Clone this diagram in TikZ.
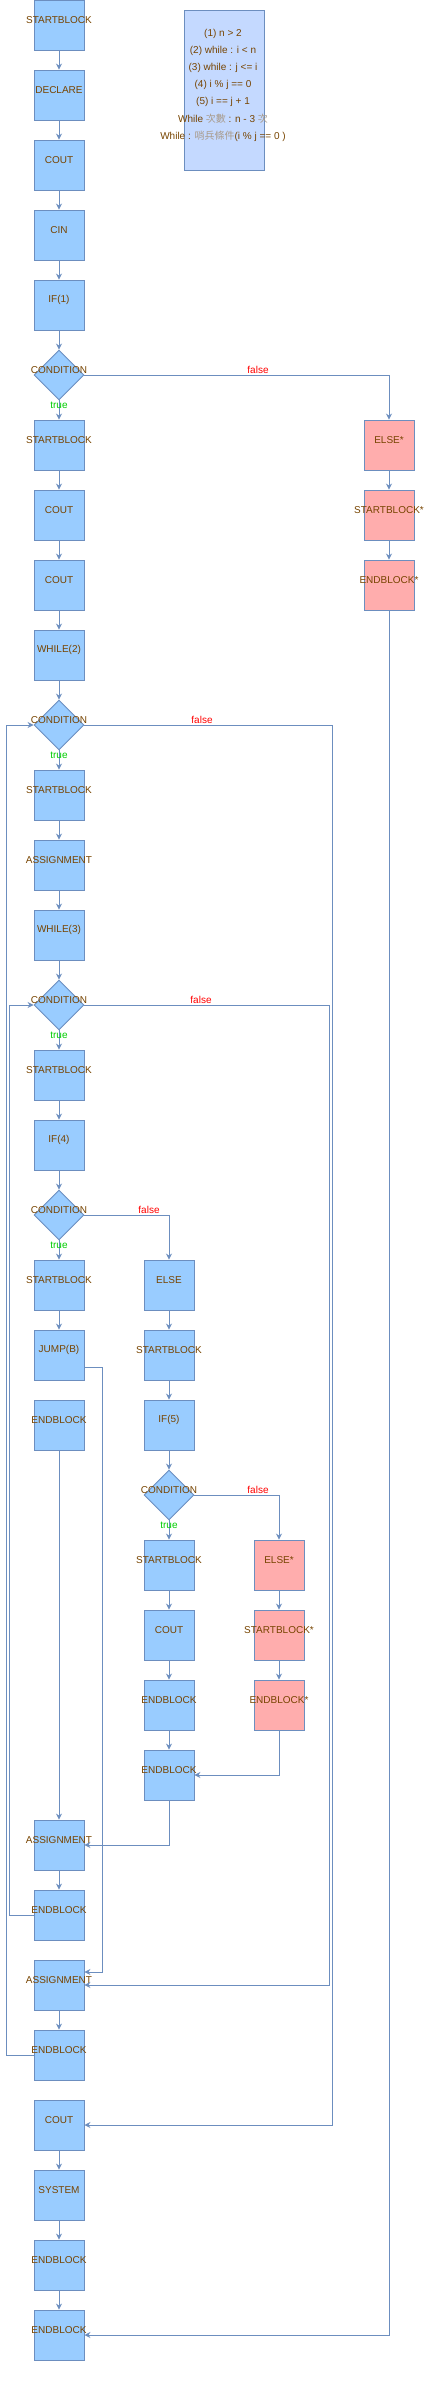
\documentclass[tikz,border=0pt]{standalone}
\usepackage{fontspec}
\setmainfont{Liberation Sans}
\newfontfamily\cjk{Noto Sans CJK TC}
\usetikzlibrary{shapes.geometric,arrows.meta}
\definecolor{lc}{HTML}{6C8EBF}
\definecolor{bf}{HTML}{99CCFF}
\definecolor{rf}{HTML}{FFADAD}
\definecolor{tc}{HTML}{774400}
\definecolor{lg}{HTML}{C4D9FF}
\definecolor{cj}{HTML}{A89A8A}
\definecolor{tg}{HTML}{00CC00}
\definecolor{fr}{HTML}{FF0000}
\newcommand\Bx[5]{\node[#1,label={[txt,yshift=5pt]center:#5}] (#2) at (#3,#4) {};}
\newcommand\cj[1]{{\cjk\color{cj}#1}}
\begin{document}
\begin{tikzpicture}[x=1pt,y=-1pt,
  box/.style={rectangle,draw=lc,fill=bf,minimum width=50pt,minimum height=50pt,inner sep=0pt,line width=0.9pt},
  rbox/.style={box,fill=rf},
  dia/.style={diamond,draw=lc,fill=bf,minimum width=50pt,minimum height=50pt,inner sep=0pt,line width=0.9pt},
  txt/.style={text=tc,font=\fontsize{10}{12}\selectfont,inner sep=0pt},
  arr/.style={draw=lc,line width=0.9pt,-{Stealth[length=6pt,width=6pt,inset=2pt]}},
  ln/.style={draw=lc,line width=0.9pt},
  tl/.style={text=tg,font=\fontsize{10}{12}\selectfont,inner sep=0pt},
  fl/.style={text=fr,font=\fontsize{10}{12}\selectfont,inner sep=0pt}]
\useasboundingbox (0,0) rectangle (430,2382);
% legend
\node[draw=lc,fill=lg,line width=0.9pt,minimum width=80pt,minimum height=160pt,inner sep=0pt] (L) at (224,90) {};
\node[txt] (L1) at (223,34) {(1) n > 2};
\node[txt] (L2) at (223,51) {(2) while : i < n};
\node[txt] (L3) at (223,68) {(3) while : j <= i};
\node[txt] (L4) at (223,85) {(4) i \% j == 0};
\node[txt] (L5) at (223,102) {(5) i == j + 1};
\node[txt] (L6) at (223,119) {While \cj{次數} : n - 3 \cj{次}};
\node[txt] (L7) at (223,136) {While : \cj{哨兵條件}(i \% j == 0 )};
% main column
\Bx{box}{m1}{59}{25}{STARTBLOCK}
\Bx{box}{m2}{59}{95}{DECLARE}
\Bx{box}{m3}{59}{165}{COUT}
\Bx{box}{m4}{59}{235}{CIN}
\Bx{box}{m5}{59}{305}{IF(1)}
\Bx{dia}{d1}{59}{375}{CONDITION}
\Bx{box}{m6}{59}{445}{STARTBLOCK}
\Bx{box}{m7}{59}{515}{COUT}
\Bx{box}{m8}{59}{585}{COUT}
\Bx{box}{m9}{59}{655}{WHILE(2)}
\Bx{dia}{d2}{59}{725}{CONDITION}
\Bx{box}{m10}{59}{795}{STARTBLOCK}
\Bx{box}{m11}{59}{865}{ASSIGNMENT}
\Bx{box}{m12}{59}{935}{WHILE(3)}
\Bx{dia}{d3}{59}{1005}{CONDITION}
\Bx{box}{m13}{59}{1075}{STARTBLOCK}
\Bx{box}{m14}{59}{1145}{IF(4)}
\Bx{dia}{d4}{59}{1215}{CONDITION}
\Bx{box}{m15}{59}{1285}{STARTBLOCK}
\Bx{box}{m16}{59}{1355}{JUMP(B)}
\Bx{box}{m17}{59}{1425}{ENDBLOCK}
\Bx{box}{m18}{59}{1845}{ASSIGNMENT}
\Bx{box}{m19}{59}{1915}{ENDBLOCK}
\Bx{box}{m20}{59}{1985}{ASSIGNMENT}
\Bx{box}{m21}{59}{2055}{ENDBLOCK}
\Bx{box}{m22}{59}{2125}{COUT}
\Bx{box}{m23}{59}{2195}{SYSTEM}
\Bx{box}{m24}{59}{2265}{ENDBLOCK}
\Bx{box}{m25}{59}{2335}{ENDBLOCK}
% second column
\Bx{box}{s1}{169}{1285}{ELSE}
\Bx{box}{s2}{169}{1355}{STARTBLOCK}
\Bx{box}{s3}{169}{1425}{IF(5)}
\Bx{dia}{d5}{169}{1495}{CONDITION}
\Bx{box}{s4}{169}{1565}{STARTBLOCK}
\Bx{box}{s5}{169}{1635}{COUT}
\Bx{box}{s6}{169}{1705}{ENDBLOCK}
\Bx{box}{s7}{169}{1775}{ENDBLOCK}
% third column
\Bx{rbox}{r1}{279}{1565}{ELSE*}
\Bx{rbox}{r2}{279}{1635}{STARTBLOCK*}
\Bx{rbox}{r3}{279}{1705}{ENDBLOCK*}
% right column
\Bx{rbox}{e1}{389}{445}{ELSE*}
\Bx{rbox}{e2}{389}{515}{STARTBLOCK*}
\Bx{rbox}{e3}{389}{585}{ENDBLOCK*}
% vertical arrows
\foreach \a/\b in {m1/m2,m2/m3,m3/m4,m4/m5,m5/d1,d1/m6,m6/m7,m7/m8,m8/m9,m9/d2,d2/m10,m10/m11,m11/m12,m12/d3,d3/m13,m13/m14,m14/d4,d4/m15,m15/m16,m17/m18,m18/m19,m20/m21,m22/m23,m23/m24,m24/m25,s1/s2,s2/s3,s3/d5,d5/s4,s4/s5,s5/s6,s6/s7,r1/r2,r2/r3,e1/e2,e2/e3}
  {\draw[arr] (\a.south) -- (\b.north);}
% branches
\draw[arr] (d1.east) -| (e1.north);
\draw[arr] (e3.south) |- (m25.east);
\draw[arr] (d2.east) -- (332,725) |- (m22.east);
\draw[arr] (m21.west) -- (6,2055) |- (d2.west);
\draw[arr] (d3.east) -- (329,1005) |- (m20.east);
\draw[arr] (m19.west) -- (9,1915) |- (d3.west);
\draw[arr] (d4.east) -| (s1.north);
\draw[arr] ([yshift=-12pt]m16.east) -- (102,1367) |- ([yshift=13pt]m20.east);
\draw[arr] (d5.east) -| (r1.north);
\draw[arr] (r3.south) |- (s7.east);
\draw[arr] (s7.south) |- (m18.east);
% labels
\node[fl] (f1) at (258,370) {false};
\node[fl] (f2) at (202,720) {false};
\node[fl] (f3) at (201,1000) {false};
\node[fl] (f4) at (149,1210) {false};
\node[fl] (f5) at (258,1490) {false};
\node[tl] (t1) at (59,405) {true};
\node[tl] (t2) at (59,755) {true};
\node[tl] (t3) at (59,1035) {true};
\node[tl] (t4) at (59,1245) {true};
\node[tl] (t5) at (169,1525) {true};
\end{tikzpicture}
\end{document}
